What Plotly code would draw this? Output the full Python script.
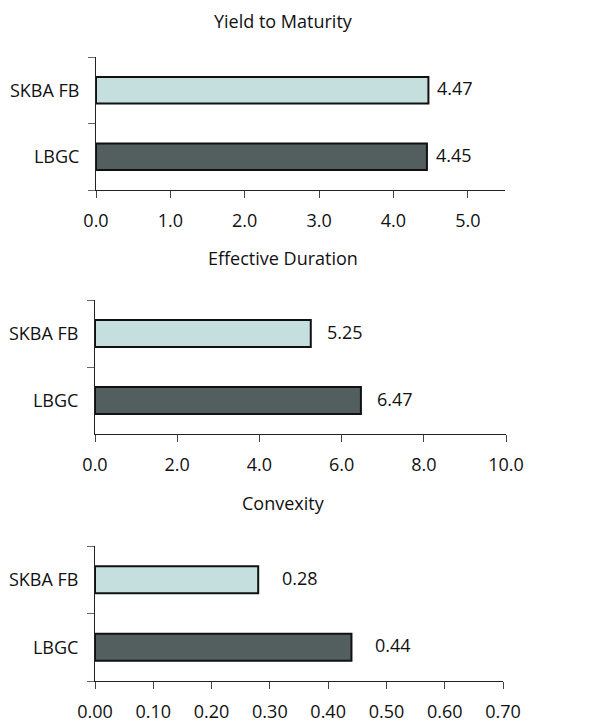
import plotly.graph_objects as go

categories = ["LBGC", "SKBA FB"]
ytm = [4.45, 4.47]
duration = [6.47, 5.25]
convexity = [0.44, 0.28]

titles = ["Yield to Maturity", "Effective Duration", "Convexity"]
bar_colors = ["#535e5e", "#c5dfdf"]

FONT = "Open Sans"
FS = 18
W, H = 592, 723

panels = [
    dict(vals=ytm, rng=[0, 5.5], dtick=1, fmt=".1f", lab=".2f",
         xpx=(96, 505), ypx=(57, 190), title_y=21, xshift=7),
    dict(vals=duration, rng=[0, 10], dtick=2, fmt=".1f", lab=".2f",
         xpx=(95, 506), ypx=(300, 434), title_y=258, xshift=14),
    dict(vals=convexity, rng=[0, 0.7], dtick=0.1, fmt=".2f", lab=".2f",
         xpx=(95, 503), ypx=(546, 681), title_y=503, xshift=22),
]

fig = go.Figure()
annotations = []
for i, p in enumerate(panels):
    n = "" if i == 0 else str(i + 1)
    fig.add_trace(go.Bar(
        x=p["vals"], y=categories, orientation="h",
        xaxis="x" + n, yaxis="y" + n,
        marker=dict(color=bar_colors, line=dict(color="#111111", width=2)),
        hoverinfo="skip", showlegend=False,
    ))
    fig.update_layout(**{
        "xaxis" + n: dict(
            domain=[p["xpx"][0] / W, p["xpx"][1] / W],
            anchor="y" + n, range=p["rng"], dtick=p["dtick"], tick0=0,
            tickformat=p["fmt"], showgrid=False, zeroline=False,
            showline=True, linecolor="#222222", linewidth=1,
            ticks="outside", ticklen=7, tickcolor="#444444",
            ticklabelstandoff=7, automargin=False,
            tickfont=dict(family=FONT, size=FS, color="#111111"),
            fixedrange=True,
        ),
        "yaxis" + n: dict(
            domain=[1 - p["ypx"][1] / H, 1 - p["ypx"][0] / H],
            anchor="x" + n, type="category", range=[-0.5, 1.5],
            tickson="boundaries", showgrid=False, zeroline=False,
            showline=True, linecolor="#222222", linewidth=1,
            ticks="outside", ticklen=7, tickcolor="#666666",
            ticklabelstandoff=12, automargin=False,
            tickfont=dict(family=FONT, size=FS, color="#111111"),
            fixedrange=True,
        ),
    })
    for c, v in zip(categories, p["vals"]):
        annotations.append(dict(
            x=v, y=c, xref="x" + n, yref="y" + n, text=format(v, p["lab"]),
            showarrow=False, xanchor="left", xshift=p["xshift"], yshift=2,
            font=dict(family=FONT, size=FS, color="#111111"),
        ))
    annotations.append(dict(
        x=283 / W, y=1 - p["title_y"] / H, xref="paper", yref="paper",
        text=titles[i], showarrow=False, xanchor="center", yanchor="middle",
        font=dict(family=FONT, size=FS, color="#111111"),
    ))

fig.update_layout(
    width=W, height=H,
    margin=dict(l=0, r=0, t=0, b=0, autoexpand=False),
    paper_bgcolor="white", plot_bgcolor="white",
    bargap=0.6, annotations=annotations, showlegend=False,
)

fig.write_html(
    "out.html",
    config={"displayModeBar": False},
    post_script="document.body.style.margin='0';document.body.style.overflow='hidden';",
)
